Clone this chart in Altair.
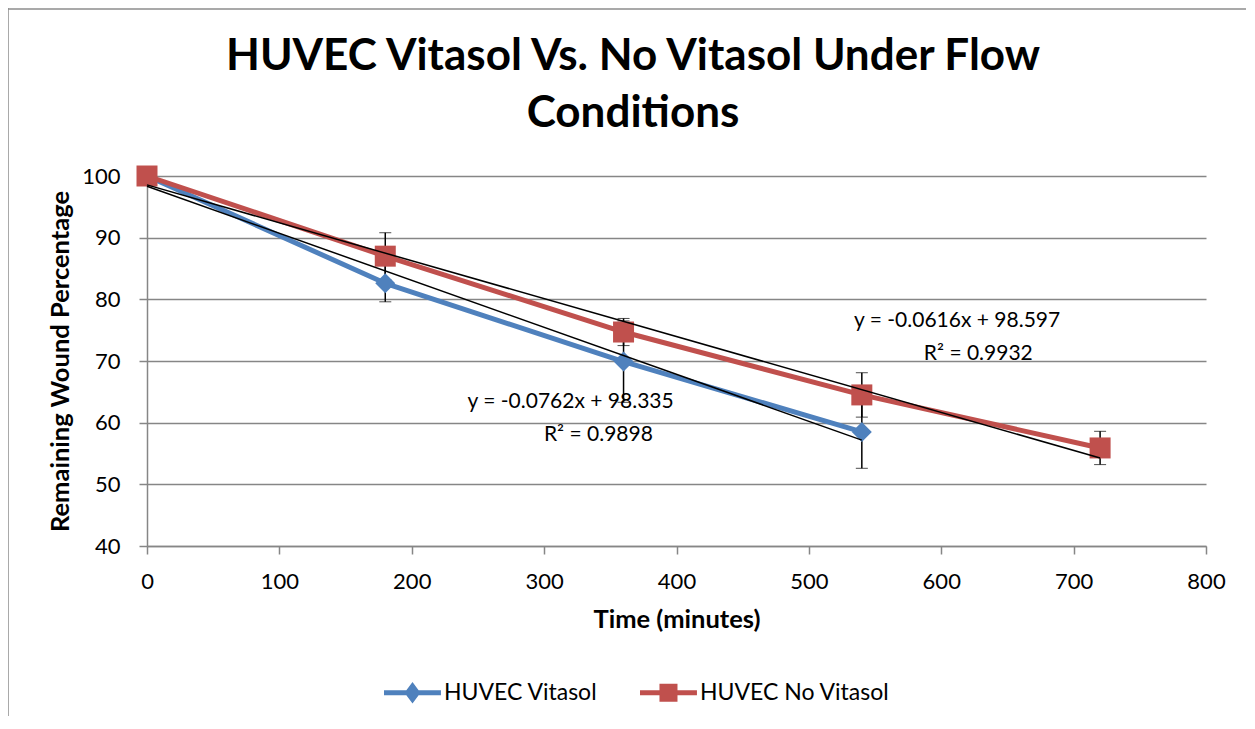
import altair as alt
import pandas as pd

# ---------------- data ----------------
series_names = ["HUVEC Vitasol", "HUVEC No Vitasol"]
series_colors = ["#4F81BD", "#C0504D"]

time_vitasol = [0, 180, 360, 540]
wound_vitasol = [100.0, 82.6, 69.9, 58.5]
err_vitasol = [0.0, 3.0, 6.6, 5.9]

time_no_vitasol = [0, 180, 360, 540, 720]
wound_no_vitasol = [100.0, 87.0, 74.7, 64.5, 55.9]
err_no_vitasol = [0.0, 3.8, 2.2, 3.6, 2.7]

x_ticks = [0, 100, 200, 300, 400, 500, 600, 700, 800]
y_ticks = [40, 50, 60, 70, 80, 90, 100]

# trendline equation labels (text, anchor position in data units)
trend_text = ["y = -0.0762x + 98.335", "R² = 0.9898",
              "y = -0.0616x + 98.597", "R² = 0.9932"]
trend_text_x = [320, 341, 612, 628]
trend_text_y = [62.3, 57.0, 75.5, 70.1]

title_text = "HUVEC Vitasol Vs. No Vitasol Under Flow\nConditions"
x_title = "Time (minutes)"
y_title = "Remaining Wound Percentage"

FONT = "Lato"
GRID = "#868686"
FRAME = "#8c8c8c"

rows = []
for t, v, e in zip(time_vitasol, wound_vitasol, err_vitasol):
    rows.append({"time": t, "wound": v, "lo": v - e, "hi": v + e, "err": e, "series": series_names[0]})
for t, v, e in zip(time_no_vitasol, wound_no_vitasol, err_no_vitasol):
    rows.append({"time": t, "wound": v, "lo": v - e, "hi": v + e, "err": e, "series": series_names[1]})
df = pd.DataFrame(rows)
df_err = df[df["err"] > 0]
df_text = pd.DataFrame({"label": trend_text, "x": trend_text_x, "y": trend_text_y})

W, H = 1059, 370

xscale = alt.Scale(domain=[0, 800], nice=False, zero=False)
yscale = alt.Scale(domain=[40, 100], nice=False, zero=False)
cscale = alt.Scale(domain=series_names, range=series_colors)

xaxis = alt.Axis(values=x_ticks, title=x_title, grid=False, labelFlush=False,
                 titleY=81, titleBaseline="alphabetic")
yaxis = alt.Axis(values=y_ticks, title=y_title, grid=True, labelFlush=False,
                 titleX=-79, titleY=185, titleBaseline="alphabetic")

# legend symbols: a line segment with the series marker on it
diamond_path = ("M-1,-0.29L5.7,-0.29L5.7,0.29L-1,0.29Z "
                "M1.41,0L2.353,-1.27L3.29,0L2.353,1.27Z")
square_path = ("M-1,-0.29L5.7,-0.29L5.7,0.29L-1,0.29Z "
               "M1.29,-1.06L3.41,-1.06L3.41,1.06L1.29,1.06Z")

legend = alt.Legend(
    title=None, orient="none", direction="horizontal",
    legendX=234, legendY=505,
    labelFont=FONT, labelFontSize=23, labelColor="black", labelLimit=400,
    labelOffset=40, columnPadding=39, symbolSize=289,
    symbolStrokeWidth=0, symbolOpacity=1,
)

base = alt.Chart(df)
one = pd.DataFrame({"k": [0]})

frame = alt.Chart(one).mark_rule(color=FRAME, strokeWidth=1.5).encode(
    x=alt.value(-139), x2=alt.value(-139), y=alt.value(-168), y2=alt.value(H + 180))
frame_top = alt.Chart(one).mark_rule(color=FRAME, strokeWidth=1.5).encode(
    x=alt.value(-139), x2=alt.value(W + 60), y=alt.value(-167), y2=alt.value(-167))

title = alt.Chart(one).mark_text(
    text=title_text, lineBreak="\n", lineHeight=57, font=FONT, fontSize=44, fontWeight="bold",
    color="black", align="center", baseline="alphabetic").encode(
    x=alt.value(486), y=alt.value(-106))

errbars = alt.Chart(df_err).mark_errorbar(
    ticks={"size": 12, "color": "black", "strokeWidth": 1.5},
    rule={"color": "black", "strokeWidth": 1.5},
).encode(x=alt.X("time:Q", scale=xscale, axis=xaxis),
         y=alt.Y("lo:Q", scale=yscale, axis=yaxis), y2="hi:Q")


def series_layers(name, color, shape, size):
    sub = base.transform_filter(alt.datum.series == name)
    ln = sub.mark_line(strokeWidth=5, strokeJoin="round", color=color).encode(
        x=alt.X("time:Q", scale=xscale, axis=xaxis), y=alt.Y("wound:Q", scale=yscale, axis=yaxis))
    pt = sub.mark_point(filled=True, opacity=1, strokeWidth=0, shape=shape, size=size,
                        color=color).encode(x="time:Q", y="wound:Q")
    return ln, pt


ln_v, pt_v = series_layers(series_names[0], series_colors[0], "diamond", 400)
ln_n, pt_n = series_layers(series_names[1], series_colors[1], "square", 441)

legend_layer = base.transform_filter("false").mark_point(
    filled=True, opacity=1, strokeWidth=0, size=289).encode(
    x="time:Q", y="wound:Q",
    color=alt.Color("series:N", scale=cscale, legend=legend),
    shape=alt.Shape("series:N", scale=alt.Scale(domain=series_names, range=[diamond_path, square_path]),
                    legend=legend),
)

trend = base.transform_regression("time", "wound", groupby=["series"]).mark_line(
    color="black", strokeWidth=1.5).encode(x="time:Q", y="wound:Q", detail="series:N")

labels = alt.Chart(df_text).mark_text(
    align="center", baseline="alphabetic", font=FONT, fontSize=21, color="black").encode(
    x=alt.X("x:Q", scale=xscale), y=alt.Y("y:Q", scale=yscale), text="label:N")

chart = alt.layer(frame, frame_top, title, errbars, ln_v, ln_n, pt_v, pt_n, trend, labels,
                  legend_layer).properties(
    width=W, height=H,
    padding={"left": 139, "top": 168, "right": 40, "bottom": 170},
    autosize=alt.AutoSizeParams(type="none"),
).configure_view(stroke=None).configure_axis(
    labelFont=FONT, labelFontSize=22, labelColor="black",
    titleFont=FONT, titleFontSize=25.5, titleFontWeight="bold", titleColor="black",
    domainColor=GRID, domainWidth=1.5, tickColor=GRID, tickWidth=1.5, tickSize=8,
    gridColor=GRID, gridWidth=1.5,
).configure_axisX(labelPadding=17).configure_axisY(labelPadding=19)

chart.save("out.html", embed_options={"renderer": "svg", "actions": False})
